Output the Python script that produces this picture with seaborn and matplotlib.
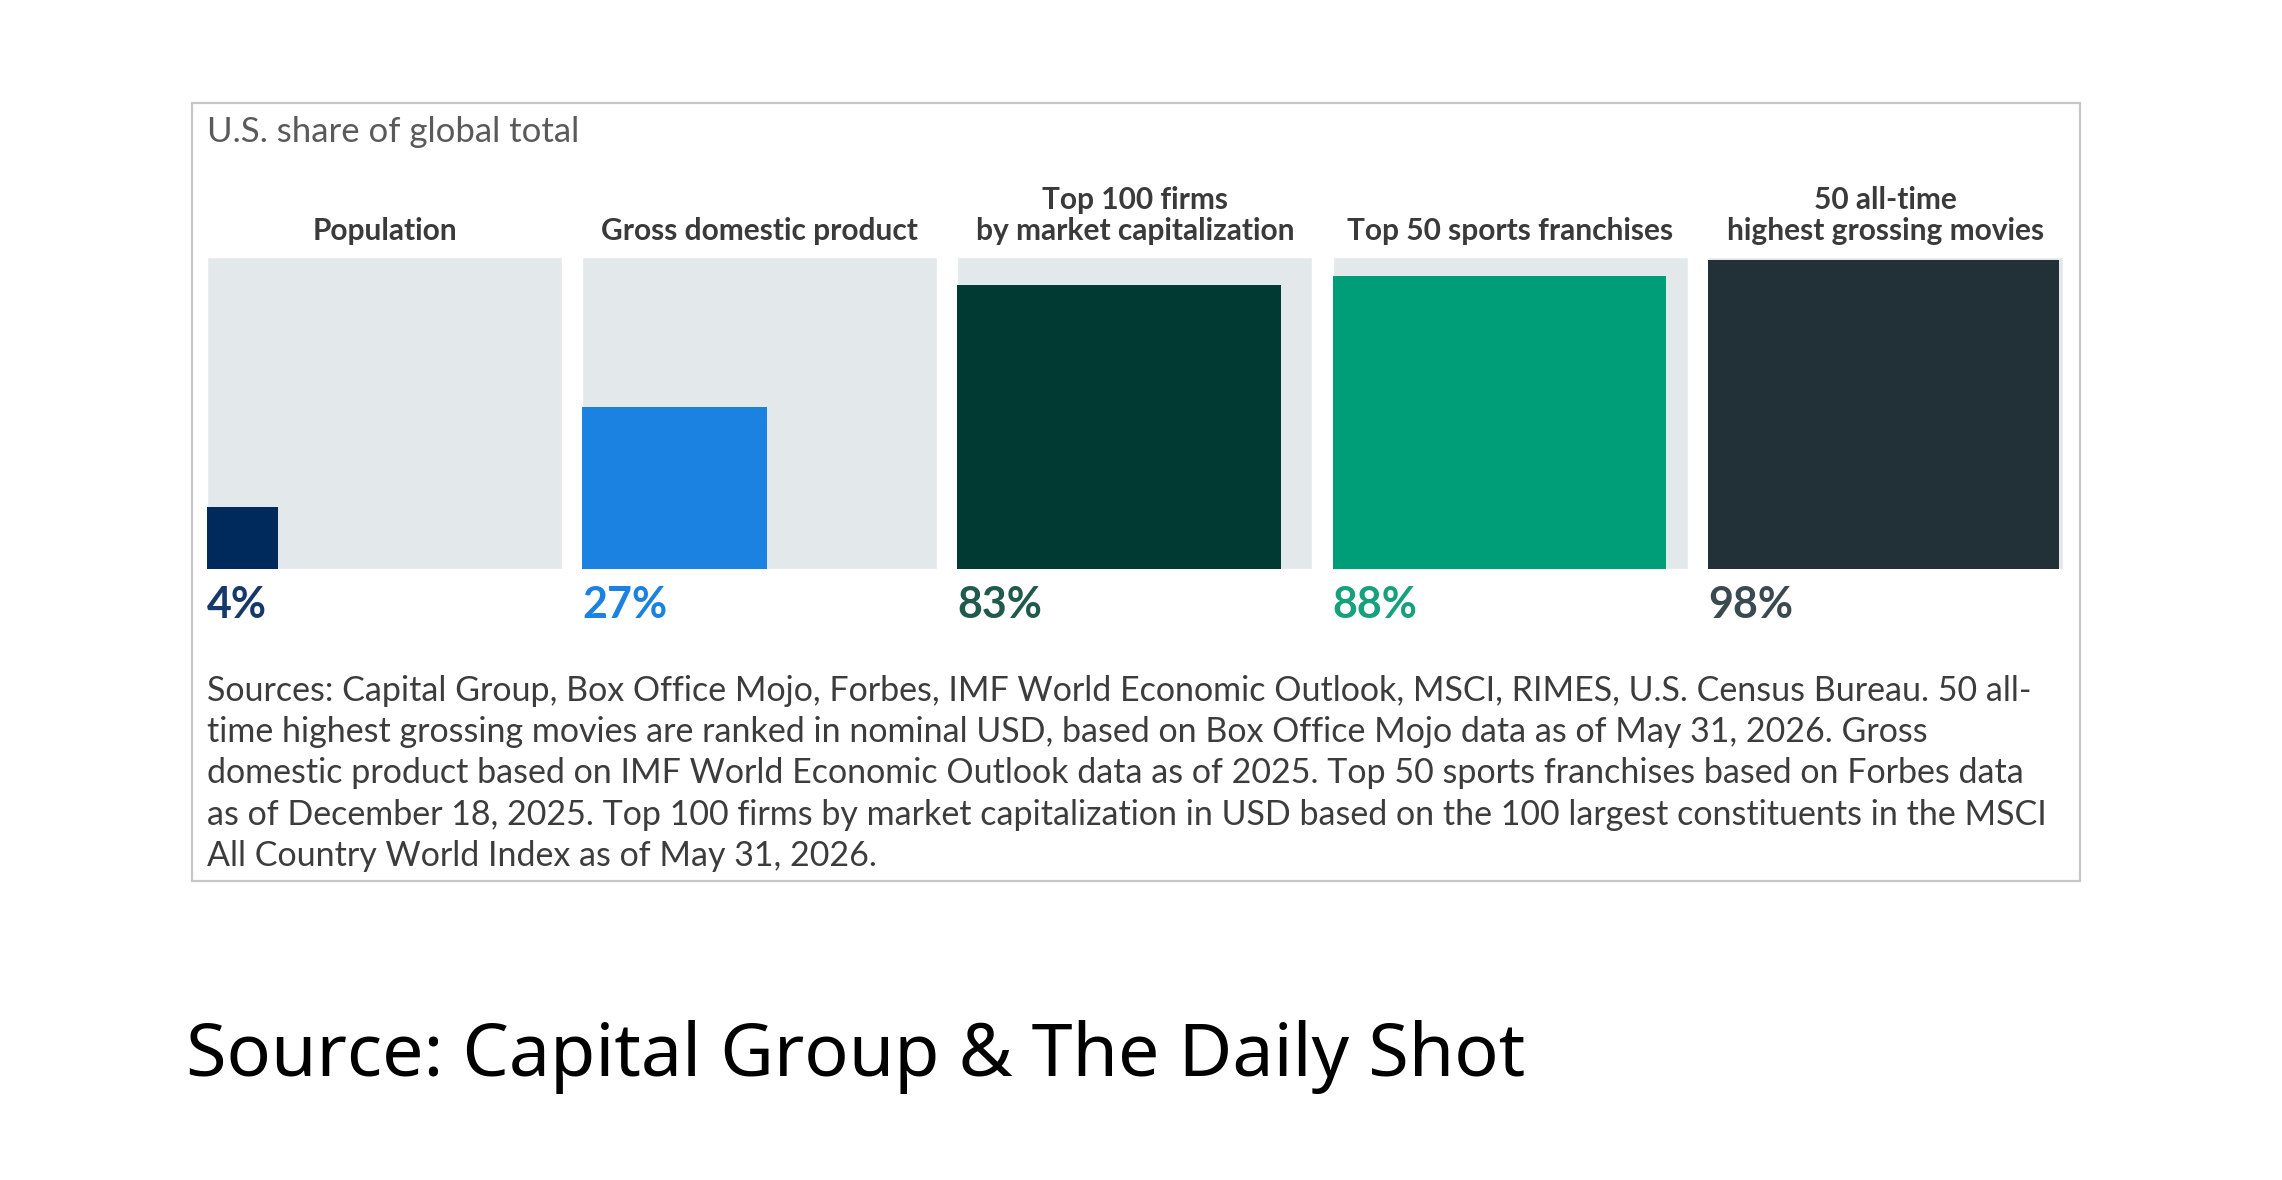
import numpy as np
import matplotlib
matplotlib.use("Agg")
import matplotlib.pyplot as plt
from matplotlib.patches import Rectangle
import seaborn as sns

# data
categories = ["Population", "Gross domestic product", "Top 100 firms\nby market capitalization",
              "Top 50 sports franchises", "50 all-time\nhighest grossing movies"]
shares = [4, 27, 83, 88, 98]
bar_colors = ["#012a5c", "#1b82e2", "#003a33", "#009e78", "#223137"]
label_colors = ["#16396b", "#1b82e2", "#1f5a4c", "#16a07c", "#3a4a50"]

title = "U.S. share of global total"
notes = [
    "Sources: Capital Group, Box Office Mojo, Forbes, IMF World Economic Outlook, MSCI, RIMES, U.S. Census Bureau. 50 all-",
    "time highest grossing movies are ranked in nominal USD, based on Box Office Mojo data as of May 31, 2026. Gross",
    "domestic product based on IMF World Economic Outlook data as of 2025. Top 50 sports franchises based on Forbes data",
    "as of December 18, 2025. Top 100 firms by market capitalization in USD based on the 100 largest constituents in the MSCI",
    "All Country World Index as of May 31, 2026.",
]
source = "Source: Capital Group & The Daily Shot"

sns.set_theme(style="white")
plt.rcParams['font.family'] = ['Lato', 'DejaVu Sans']

W, H = 2282, 1180
fig = plt.figure(figsize=(W / 100, H / 100), dpi=100)
fig.patch.set_facecolor("white")


def fx(x):
    return x / W


def fy(y):
    return 1 - y / H


# outer frame
fig.add_artist(Rectangle((fx(192), fy(881)), fx(2080) - fx(192), fy(103) - fy(881),
                         transform=fig.transFigure, fill=False, edgecolor="#c6c6c6", linewidth=1.6))

fig.text(fx(207), fy(132), title, fontsize=25, color="#5a5a5a", va="center", ha="left")

panel_left = 207
panel_w = 355
pitch = 375.2
panel_top, panel_bot = 257, 569

for i, (cat, val) in enumerate(zip(categories, shares)):
    x0 = panel_left + i * pitch
    ax = fig.add_axes([fx(x0), fy(panel_bot), panel_w / W, (panel_bot - panel_top) / H])
    # grey background panel
    sns.barplot(x=[0], y=[1.0], color="#e3e8eb", width=1.0, saturation=1, ax=ax)
    # area-scaled square: both sides = sqrt(share)
    side = np.sqrt(val / 100)
    ax.bar(-0.5, side, width=side, align="edge", color=bar_colors[i], linewidth=0)
    ax.set_xlim(-0.5, 0.5)
    ax.set_ylim(0, 1)
    ax.axis("off")

    fig.text(fx(x0 + panel_w / 2), fy(245), cat, fontsize=21.5, fontweight="bold",
             color="#3a3a3a", ha="center", va="bottom", linespacing=1.15)
    fig.text(fx(x0), fy(605), f"{val}%", fontsize=31, fontweight="bold",
             color=label_colors[i], ha="left", va="center")

for k, line in enumerate(notes):
    fig.text(fx(207), fy(691 + k * 41.2), line, fontsize=24.5, color="#3c3c3c",
             ha="left", va="center")

fig.text(fx(186), fy(1057), source, fontsize=53, color="black", ha="left", va="center",
         family=["Noto Sans", "DejaVu Sans"])

fig.savefig("out.png", dpi=100)
